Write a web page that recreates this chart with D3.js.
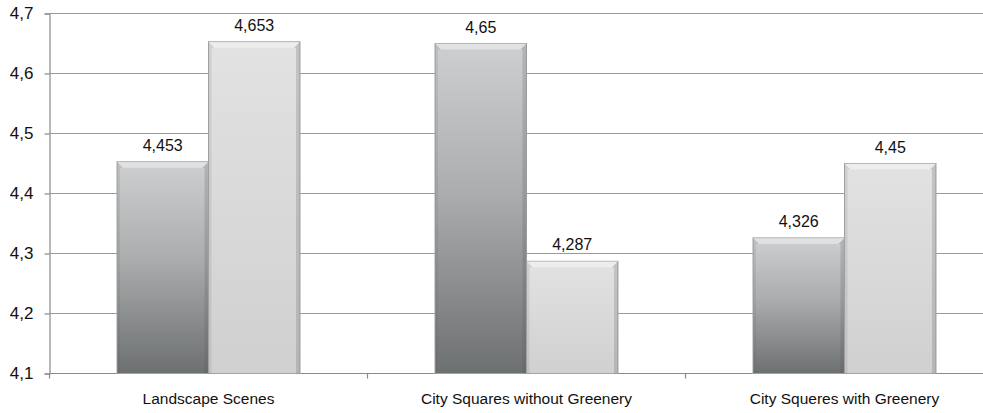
<!DOCTYPE html>
<html>
<head>
<meta charset="utf-8">
<script src="https://cdn.jsdelivr.net/npm/d3@7"></script>
<style>
  html, body { margin: 0; padding: 0; background: #ffffff; }
  svg { display: block; }
  text { font-family: "Liberation Sans", Arial, sans-serif; fill: #111; }
</style>
</head>
<body>
<div id="chart"></div>
<script>
// Mean ratings per scene type, two measurements each
const categories = ["Landscape Scenes", "City Squares without Greenery", "City Squeres with Greenery"];
const seriesKeys = ["first", "second"];
const firstValues = [4.453, 4.65, 4.326];
const secondValues = [4.653, 4.287, 4.45];
const yTicks = [4.1, 4.2, 4.3, 4.4, 4.5, 4.6, 4.7];

const width = 983, height = 413;
const margin = { left: 49.5, top: 13.5, bottom: 373.5 };
const bandWidth = 318;

const svg = d3.select("#chart").append("svg")
  .attr("width", width).attr("height", height);

const defs = svg.append("defs");
const gradDark = defs.append("linearGradient").attr("id", "gDark")
  .attr("x1", 0).attr("y1", 0).attr("x2", 0).attr("y2", 1);
gradDark.append("stop").attr("offset", "0%").attr("stop-color", "#cdcfd0");
gradDark.append("stop").attr("offset", "45%").attr("stop-color", "#abadae");
gradDark.append("stop").attr("offset", "100%").attr("stop-color", "#6d7071");
const gradLight = defs.append("linearGradient").attr("id", "gLight")
  .attr("x1", 0).attr("y1", 0).attr("x2", 0).attr("y2", 1);
gradLight.append("stop").attr("offset", "0%").attr("stop-color", "#e2e2e2");
gradLight.append("stop").attr("offset", "100%").attr("stop-color", "#d0d0d0");

const x = d3.scaleBand().domain(categories)
  .range([margin.left, margin.left + bandWidth * categories.length]).padding(0);
const xInner = d3.scaleBand().domain(seriesKeys).range([67.5, 250.5]).padding(0);
const y = d3.scaleLinear().domain([4.1, 4.7]).range([margin.bottom, margin.top]);

const fmt = v => String(v).replace(".", ",");

// Horizontal gridlines
svg.append("g").selectAll("line").data(yTicks.slice(1)).join("line")
  .attr("x1", margin.left).attr("x2", width)
  .attr("y1", d => y(d)).attr("y2", d => y(d))
  .attr("stroke", "#9a9a9a").attr("stroke-width", 1.2);

// Y axis
const yAxis = d3.axisLeft(y).tickValues(yTicks).tickSize(5).tickPadding(11)
  .tickFormat(d => fmt(d3.format(".1f")(d)));
const gy = svg.append("g").attr("transform", `translate(${margin.left},0)`).call(yAxis);
gy.select(".domain").attr("stroke", "#8a8a8a").attr("stroke-width", 1.2);
gy.selectAll(".tick line").attr("stroke", "#8a8a8a").attr("stroke-width", 1.2);
gy.selectAll(".tick text").style("font-size", "17px").attr("fill", "#111")
  .style("font-family", "'Liberation Sans', Arial, sans-serif");

// X axis baseline with ticks at band boundaries
svg.append("line").attr("x1", margin.left).attr("x2", width)
  .attr("y1", margin.bottom).attr("y2", margin.bottom)
  .attr("stroke", "#8a8a8a").attr("stroke-width", 1.2);
const boundaries = categories.map(c => x(c)).concat([x(categories[categories.length - 1]) + x.bandwidth()]);
svg.append("g").selectAll("line").data(boundaries).join("line")
  .attr("x1", d => d).attr("x2", d => d)
  .attr("y1", margin.bottom).attr("y2", margin.bottom + 5)
  .attr("stroke", "#8a8a8a").attr("stroke-width", 1.2);

// Category labels
svg.append("g").selectAll("text").data(categories).join("text")
  .attr("x", d => x(d) + x.bandwidth() / 2)
  .attr("y", 403.5)
  .attr("text-anchor", "middle")
  .style("font-size", "15.5px")
  .text(d => d);

// Bars
const rows = [];
categories.forEach((c, i) => {
  rows.push({ cat: c, key: "first", value: firstValues[i] });
  rows.push({ cat: c, key: "second", value: secondValues[i] });
});

const bars = svg.append("g").selectAll("g").data(rows).join("g");
const bw = xInner.bandwidth();
const bev = 6;

bars.append("rect")
  .attr("x", d => x(d.cat) + xInner(d.key))
  .attr("y", d => y(d.value))
  .attr("width", bw)
  .attr("height", d => y(4.1) - y(d.value))
  .attr("fill", d => d.key === "first" ? "url(#gDark)" : "url(#gLight)")
  .attr("stroke", "#a4a4a4").attr("stroke-width", 1);

// Bevel: light top face, shaded sides
bars.append("path")
  .attr("d", d => {
    const x0 = x(d.cat) + xInner(d.key), x1 = x0 + bw, y0 = y(d.value);
    return `M${x0},${y0}L${x1},${y0}L${x1 - bev},${y0 + bev}L${x0 + bev},${y0 + bev}Z`;
  })
  .attr("fill", "#ffffff").attr("opacity", 0.4);
bars.append("path")
  .attr("d", d => {
    const x0 = x(d.cat) + xInner(d.key), x1 = x0 + bw, y0 = y(d.value), yb = y(4.1);
    return `M${x1},${y0}L${x1},${yb}L${x1 - 4},${yb}L${x1 - 4},${y0 + bev}L${x1 - bev},${y0 + bev}Z`;
  })
  .attr("fill", "#555").attr("opacity", 0.22);
bars.append("path")
  .attr("d", d => {
    const x0 = x(d.cat) + xInner(d.key), y0 = y(d.value), yb = y(4.1);
    return `M${x0},${y0}L${x0},${yb}L${x0 + 3},${yb}L${x0 + 3},${y0 + bev}L${x0 + bev},${y0 + bev}Z`;
  })
  .attr("fill", "#555").attr("opacity", 0.12);

// Value labels
bars.append("text")
  .attr("x", d => x(d.cat) + xInner(d.key) + bw / 2)
  .attr("y", d => y(d.value) - 11)
  .attr("text-anchor", "middle")
  .style("font-size", "16px")
  .text(d => fmt(d.value));
</script>
</body>
</html>
